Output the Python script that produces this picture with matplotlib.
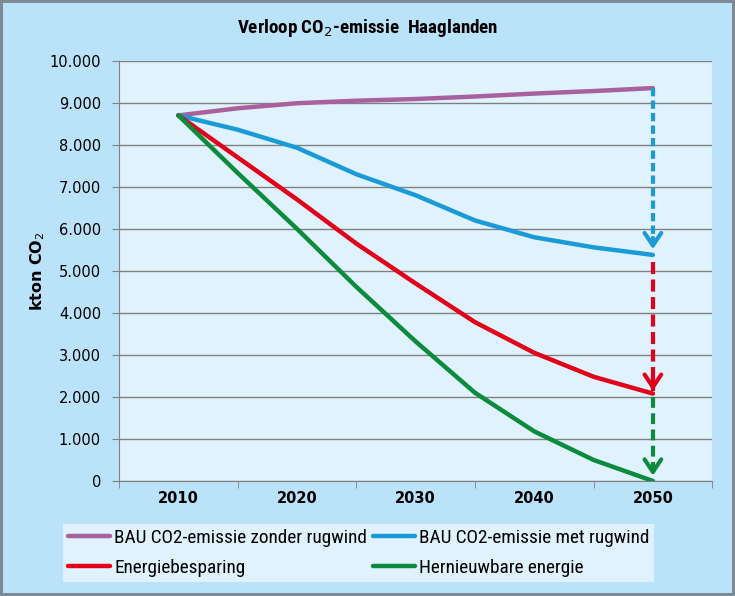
import matplotlib
matplotlib.use("Agg")
import matplotlib.pyplot as plt
from matplotlib.ticker import FixedLocator, FuncFormatter
from matplotlib import font_manager as fm

years = [2010, 2015, 2020, 2025, 2030, 2035, 2040, 2045, 2050]
bau_zonder = [8700, 8870, 8990, 9050, 9090, 9150, 9220, 9280, 9350]
bau_met = [8700, 8360, 7930, 7300, 6800, 6200, 5800, 5560, 5380]
besparing = [8700, 7700, 6700, 5650, 4700, 3780, 3050, 2480, 2080]
hernieuwbaar = [8700, 7330, 6000, 4620, 3320, 2100, 1180, 500, 0]

labels = ["BAU CO2-emissie zonder rugwind", "BAU CO2-emissie met rugwind",
          "Energiebesparing", "Hernieuwbare energie"]
colors = ["#A8609F", "#1A9BD7", "#E2001A", "#0B8B3B"]

# arrows: (x, start, end, color)
arrows = [
    (2050, 9350, 5500, "#1A9BD7"),
    (2050, 5200, 2130, "#E2001A"),
    (2050, 2000, 110, "#0B8B3B"),
]

xticks = [2010, 2020, 2030, 2040, 2050]
yticks = list(range(0, 10001, 1000))

names = {f.name for f in fm.fontManager.ttflist}
narrow = None
for cand in ["Liberation Sans Narrow", "Arial Narrow", "Roboto Condensed", "Open Sans Condensed"]:
    if cand in names:
        narrow = cand
        break
has_cond = any(f.name == "DejaVu Sans" and f.stretch in ("condensed", 300) for f in fm.fontManager.ttflist)
if narrow:
    tfam = [narrow, "DejaVu Sans"]
    tstretch = "normal"
elif has_cond:
    tfam = ["DejaVu Sans"]
    tstretch = "condensed"
else:
    tfam = ["Liberation Sans", "DejaVu Sans"]
    tstretch = "normal"

fig = plt.figure(figsize=(7.35, 5.96), dpi=100)
fig.patch.set_facecolor("#BAE3FA")
fig.patch.set_edgecolor("#7D8A95")
fig.patch.set_linewidth(4)

ax = fig.add_axes([0.162, 0.193, 0.807, 0.705])
ax.set_facecolor("#E0F2FD")

series = [bau_zonder, bau_met, besparing, hernieuwbaar]
handles = []
for vals, lab, c in zip(series, labels, colors):
    h, = ax.plot(years, vals, color=c, lw=3.2, solid_capstyle="round", label=lab, zorder=3)
    handles.append(h)

dashes = [(2.0, 1.0), (2.9, 1.3), (2.6, 1.3)]
for (x, y0, y1, c), d in zip(arrows, dashes):
    ax.plot([x, x], [y0, y1], color=c, lw=3, ls=(0, d), zorder=4)
    ax.annotate("", xy=(x, y1 - 50), xytext=(x, y1 + 350),
                arrowprops=dict(arrowstyle="->,head_length=0.9,head_width=0.6", color=c, lw=3),
                zorder=5)

ax.set_xlim(2005, 2055)
ax.set_ylim(0, 10000)
ax.xaxis.set_major_locator(FixedLocator(xticks))
ax.xaxis.set_minor_locator(FixedLocator([2005, 2015, 2025, 2035, 2045, 2055]))
ax.tick_params(axis="x", which="major", length=0, pad=7)
ax.tick_params(axis="x", which="minor", length=5, color="#808080", direction="out")
ax.set_yticks(yticks)
ax.yaxis.set_major_formatter(FuncFormatter(lambda v, p: "0" if v == 0 else f"{int(v):,}".replace(",", ".")))
ax.tick_params(axis="y", length=5, color="#808080", direction="out", pad=8, labelsize=10.5)
for t in ax.get_xticklabels():
    t.set_fontweight("bold")
    t.set_fontsize(10.5)
ax.grid(axis="y", color="#808080", lw=1, zorder=1)
ax.set_axisbelow(True)
for s in ["top", "right"]:
    ax.spines[s].set_visible(False)
ax.spines["left"].set_color("#808080")
ax.spines["bottom"].set_color("#808080")

ax.set_ylabel("kton CO$_2$", fontsize=11.5, fontweight="bold", labelpad=2)

fig.text(0.5, 0.953, "Verloop CO$_2$-emissie  Haaglanden", ha="center", va="center",
         fontsize=13.7, fontweight="bold", family=tfam, fontstretch=tstretch)

prop = fm.FontProperties(family=tfam, size=13.9, stretch=tstretch)
leg = fig.legend([handles[0], handles[2], handles[1], handles[3]],
                 [labels[0], labels[2], labels[1], labels[3]],
                 ncol=2, loc="lower left", bbox_to_anchor=(0.086, 0.0235),
                 borderaxespad=0,
                 frameon=True, fancybox=False, handlelength=2.18, handletextpad=0.2,
                 columnspacing=0.3, labelspacing=0.62, borderpad=0.26, prop=prop)
leg.get_frame().set_facecolor("#E0F2FD")
leg.get_frame().set_edgecolor("none")
leg.get_frame().set_alpha(1)

fig.savefig("out.png", dpi=100, facecolor=fig.get_facecolor(), edgecolor=fig.get_edgecolor())
